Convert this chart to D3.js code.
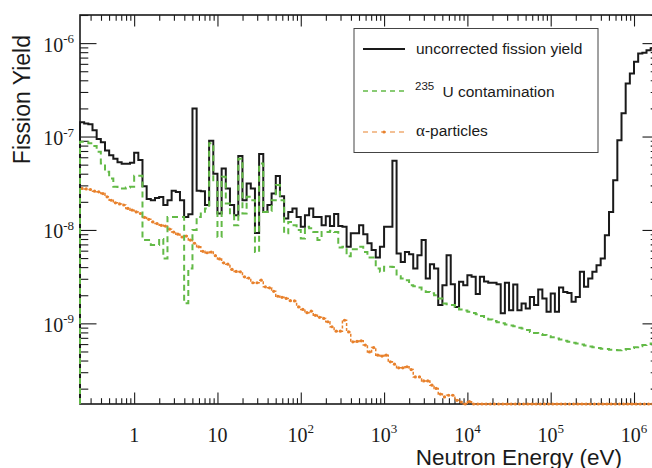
<!DOCTYPE html>
<html><head><meta charset="utf-8">
<script src="https://cdn.jsdelivr.net/npm/d3@7"></script>
<style>body{margin:0;background:#fff} svg{display:block}</style>
</head><body><svg id="c" width="652" height="468"></svg>
<script>
// Histogram binning: 20 bins per decade starting at 10^-0.65 eV
const binLogStart = -0.65, binLogWidth = 0.05;

// Uncorrected fission yield (per bin)
const uncorrected = [
1.42e-7,1.38e-7,1.35e-7,1.17e-7,9.4e-8,8.7e-8,7.1e-8,6.3e-8,5.8e-8,5.3e-8,
5.1e-8,5.1e-8,5.25e-8,6.7e-8,5.6e-8,2.94e-8,2.15e-8,2.08e-8,2.2e-8,2.25e-8,
1.85e-8,2.08e-8,2.62e-8,2.55e-8,2.08e-8,1.38e-8,1.47e-8,2.0e-7,2.62e-8,2.6e-8,
1.85e-8,9.0e-8,4.0e-8,1.5e-8,4.55e-8,2.78e-8,1.85e-8,1.44e-8,6.17e-8,2.08e-8,
3.15e-8,2.78e-8,9.3e-9,6.5e-8,1.56e-8,1.85e-8,2.45e-8,3.77e-8,2.3e-8,1.33e-8,
1.56e-8,1.7e-8,1.38e-8,1.08e-8,1.44e-8,1.7e-8,1.38e-8,1.38e-8,1.12e-8,1.4e-8,
1.1e-8,1.48e-8,1.1e-8,1.08e-8,6.6e-9,9.2e-9,9.2e-9,1.12e-8,9.0e-9,7.2e-9,
6.1e-9,5.07e-9,6.6e-9,1.08e-8,1.08e-8,5.5e-8,5.6e-9,4.55e-9,5.8e-9,5.5e-9,
3.87e-9,5.37e-9,7.8e-9,3.03e-9,4.3e-9,3.87e-9,1.57e-9,2.56e-9,5.37e-9,2.63e-9,
1.5e-9,2.79e-9,2.56e-9,3.28e-9,3.15e-9,2.06e-9,3.15e-9,2.8e-9,2.72e-9,2.72e-9,
2.63e-9,1.28e-9,2.72e-9,1.38e-9,2.6e-9,1.38e-9,1.63e-9,1.44e-9,1.92e-9,1.57e-9,
2.31e-9,1.85e-9,1.33e-9,2.09e-9,1.33e-9,2.42e-9,2.17e-9,2.12e-9,1.7e-9,1.92e-9,
3.56e-9,2.46e-9,3.03e-9,3.56e-9,4.2e-9,4.95e-9,8.8e-9,1.56e-8,3.41e-8,9.1e-8,
1.77e-7,3.7e-7,4.73e-7,6.3e-7,7.76e-7,7.9e-7,8.4e-7,8.8e-7,9.0e-7
];

// 235U contamination (per bin)
const u235 = [
8.8e-8,8.8e-8,8.5e-8,7.9e-8,6.86e-8,5.15e-8,4.19e-8,3.56e-8,2.9e-8,2.78e-8,
2.78e-8,2.85e-8,2.9e-8,3.8e-8,3.8e-8,7.8e-9,7.8e-9,6.9e-9,6.9e-9,8.0e-9,
4.95e-9,1.38e-8,1.38e-8,1.38e-8,1.38e-8,1.64e-9,3.87e-9,1.0e-8,1.38e-8,1.5e-8,
1.7e-8,8.5e-8,3.4e-8,8.4e-9,3.7e-8,1.92e-8,1.44e-8,1.12e-8,5.8e-8,1.5e-8,
2.26e-8,2.08e-8,5.8e-9,5.15e-8,1.56e-8,1.6e-8,2.08e-8,3.02e-8,2.08e-8,9.2e-9,
1.22e-8,1.12e-8,9.96e-9,8.1e-9,1.08e-8,1.04e-8,9.5e-9,7.8e-9,9.5e-9,9.5e-9,
9.8e-9,9.5e-9,6.5e-9,6.6e-9,5.24e-9,6.2e-9,6.2e-9,6.6e-9,5.8e-9,5.07e-9,
5.07e-9,3.87e-9,3.56e-9,4.03e-9,4.03e-9,4.0e-9,3.2e-9,3.03e-9,2.9e-9,2.56e-9,
2.5e-9,2.42e-9,2.3e-9,2.17e-9,2.1e-9,2.0e-9,1.85e-9,1.63e-9,1.6e-9,1.57e-9,
1.5e-9,1.41e-9,1.37e-9,1.33e-9,1.29e-9,1.25e-9,1.2e-9,1.17e-9,1.1e-9,1.06e-9,
1.03e-9,1.0e-9,9.7e-10,9.5e-10,9.3e-10,9.0e-10,8.8e-10,8.5e-10,8.1e-10,7.9e-10,
7.7e-10,7.5e-10,7.3e-10,7.1e-10,6.9e-10,6.7e-10,6.5e-10,6.35e-10,6.2e-10,6.1e-10,
5.95e-10,5.8e-10,5.65e-10,5.55e-10,5.45e-10,5.35e-10,5.3e-10,5.22e-10,5.18e-10,5.16e-10,
5.2e-10,5.3e-10,5.45e-10,5.55e-10,5.7e-10,5.85e-10,6.0e-10,6.1e-10,6.2e-10
];

// alpha-particle background (per bin; values below the axis sit on the bottom edge)
const alpha = [
2.78e-8,2.75e-8,2.71e-8,2.6e-8,2.56e-8,2.45e-8,2.26e-8,2.08e-8,1.95e-8,1.9e-8,
1.85e-8,1.7e-8,1.63e-8,1.56e-8,1.5e-8,1.36e-8,1.3e-8,1.22e-8,1.17e-8,1.12e-8,
1.1e-8,1.02e-8,9.5e-9,9.0e-9,8.4e-9,8.6e-9,7.8e-9,7.2e-9,6.6e-9,5.9e-9,
5.7e-9,5.8e-9,5.3e-9,4.9e-9,4.45e-9,4.3e-9,3.78e-9,3.6e-9,3.56e-9,3.15e-9,
3.05e-9,2.72e-9,2.72e-9,2.9e-9,2.46e-9,2.4e-9,2.2e-9,1.95e-9,1.9e-9,1.85e-9,
1.75e-9,1.74e-9,1.5e-9,1.41e-9,1.3e-9,1.35e-9,1.22e-9,1.16e-9,1.13e-9,1.04e-9,
9.2e-10,8.25e-10,8.25e-10,1.08e-9,8.1e-10,6.35e-10,6.4e-10,6.5e-10,5.85e-10,4.95e-10,
5.5e-10,4.57e-10,4.46e-10,4.57e-10,3.87e-10,3.66e-10,3.34e-10,3.34e-10,3.43e-10,3.2e-10,
2.67e-10,2.67e-10,2.42e-10,2.42e-10,2.18e-10,2.01e-10,1.75e-10,1.63e-10,1.7e-10,1.7e-10,
1.5e-10,1.44e-10,1.3e-10,1.45e-10,1.2e-10,1.15e-10,1.1e-10,1.05e-10,1.0e-10,9.5e-11,
9.0e-11,8.6e-11,8.2e-11,7.8e-11,7.4e-11,7.0e-11,6.7e-11,6.4e-11,6.1e-11,5.8e-11,
5.5e-11,5.2e-11,5.0e-11,4.8e-11,4.6e-11,4.4e-11,4.2e-11,4.0e-11,3.8e-11,3.6e-11,
3.5e-11,3.4e-11,3.3e-11,3.2e-11,3.1e-11,3.0e-11,2.9e-11,2.8e-11,2.7e-11,2.6e-11,
2.5e-11,2.4e-11,2.3e-11,2.2e-11,2.1e-11,2.0e-11,1.9e-11,1.8e-11,1.7e-11
];

const xTickExps = [0,1,2,3,4,5,6];
const yTickExps = [-6,-7,-8,-9];
const xTitle = "Neutron Energy (eV)";
const yTitle = "Fission Yield";

const W=652,H=468,L=80,R=659,T=15,B=404;
const xDomain=[Math.pow(10,-0.65),Math.pow(10,6.3)];
const yDomain=[1.37e-10,2.0e-6];
const x=d3.scaleLog().domain(xDomain).range([L,R]);
const y=d3.scaleLog().domain(yDomain).range([B,T]).clamp(true);
const svg=d3.select("#c");
const edge=i=>Math.pow(10,binLogStart+i*binLogWidth);
const center=i=>Math.pow(10,binLogStart+(i+0.5)*binLogWidth);

svg.append("defs").append("clipPath").attr("id","clip")
  .append("rect").attr("x",L-2).attr("y",T).attr("width",R-L+2).attr("height",B-T+2);

// frame
svg.append("rect").attr("x",L).attr("y",T).attr("width",R-L).attr("height",B-T)
  .attr("fill","none").attr("stroke","#1a1a1a").attr("stroke-width",1.6);

// ticks
const minorX=[],majorX=[];
for(let e=-1;e<=6;e++){for(let m=1;m<=9;m++){const v=m*Math.pow(10,e);if(v<xDomain[0]||v>xDomain[1])continue;(m===1?majorX:minorX).push(v);}}
const minorY=[],majorY=[];
for(let e=-10;e<=-6;e++){for(let m=1;m<=9;m++){const v=m*Math.pow(10,e);if(v<yDomain[0]||v>yDomain[1])continue;(m===1?majorY:minorY).push(v);}}
function axisG(gen,tx,ty){const g=svg.append("g").attr("transform",`translate(${tx},${ty})`).call(gen);
  g.select(".domain").remove(); g.selectAll("line").attr("stroke","#1a1a1a").attr("stroke-width",1.1); g.selectAll("text").remove(); return g;}
axisG(d3.axisBottom(x).tickValues(majorX).tickSize(-11.5),0,B);
axisG(d3.axisBottom(x).tickValues(minorX).tickSize(-5.8),0,B);
axisG(d3.axisTop(x).tickValues(majorX).tickSize(-11.5),0,T);
axisG(d3.axisTop(x).tickValues(minorX).tickSize(-5.8),0,T);
axisG(d3.axisLeft(y).tickValues(majorY).tickSize(-16.5),L,0);
axisG(d3.axisLeft(y).tickValues(minorY).tickSize(-8.3),L,0);
axisG(d3.axisRight(y).tickValues(majorY).tickSize(-16.5),R,0);
axisG(d3.axisRight(y).tickValues(minorY).tickSize(-8.3),R,0);

// tick labels
const serif="'Liberation Serif','Times New Roman',serif";
xTickExps.forEach(e=>{
  const t=svg.append("text").attr("x",x(Math.pow(10,e))).attr("y",441.5).attr("text-anchor","middle")
    .attr("font-family",serif).attr("font-size",20).attr("fill","#1a1a1a");
  if(e===0) t.text("1"); else if(e===1) t.text("10");
  else {t.append("tspan").text("10"); t.append("tspan").attr("font-size",13).attr("dy",-9).text(e);}
});
yTickExps.forEach(e=>{
  const t=svg.append("text").attr("x",74).attr("y",y(Math.pow(10,e))+8.5).attr("text-anchor","end")
    .attr("font-family",serif).attr("font-size",20).attr("fill","#1a1a1a");
  t.append("tspan").text("10"); t.append("tspan").attr("font-size",13).attr("dy",-8.5).text("-"+Math.abs(e));
});

// axis titles
const sans="'Liberation Sans',Arial,Helvetica,sans-serif";
svg.append("text").attr("transform","translate(30,35) rotate(-90)").attr("text-anchor","end")
  .attr("font-family",sans).attr("font-size",23).attr("fill","#1a1a1a").text(yTitle);
svg.append("text").attr("x",622).attr("y",464.5).attr("text-anchor","end")
  .attr("font-family",sans).attr("font-size",22.5).attr("fill","#1a1a1a").text(xTitle);

// data
const plot=svg.append("g").attr("clip-path","url(#clip)");
function histPts(vals){const p=[[x(edge(0)),B]];vals.forEach((v,i)=>{p.push([x(edge(i)),y(v)]);p.push([x(edge(i+1)),y(v)]);});return p;}
const line=d3.line();
const orange="#e8812c", green="#63ba47";
plot.append("path").attr("d",line(histPts(alpha))).attr("fill","none").attr("stroke",orange)
  .attr("stroke-width",1.5).attr("stroke-dasharray","3,2");
plot.selectAll("circle.a").data(alpha).enter().append("circle").attr("class","a")
  .attr("cx",(d,i)=>x(center(i))).attr("cy",d=>y(d)).attr("r",1.6).attr("fill",orange);
plot.append("path").attr("d",line(histPts(uncorrected))).attr("fill","none").attr("stroke","#1a1a1a")
  .attr("stroke-width",2);
plot.append("path").attr("d",line(histPts(u235))).attr("fill","none").attr("stroke",green)
  .attr("stroke-width",2).attr("stroke-dasharray","6,4");

// legend
const lg=svg.append("g");
lg.append("rect").attr("x",354).attr("y",28.5).attr("width",244).attr("height",124)
  .attr("fill","#fff").attr("stroke","#444").attr("stroke-width",1);
lg.append("line").attr("x1",363).attr("x2",405).attr("y1",49).attr("y2",49).attr("stroke","#1a1a1a").attr("stroke-width",2);
lg.append("text").attr("x",416).attr("y",54).attr("font-family",sans).attr("font-size",15.5).attr("fill","#1a1a1a").text("uncorrected fission yield");
lg.append("line").attr("x1",363).attr("x2",405).attr("y1",91).attr("y2",91).attr("stroke",green).attr("stroke-width",1.5).attr("stroke-dasharray","5,4");
lg.append("text").attr("x",415).attr("y",90).attr("font-family",sans).attr("font-size",11.5).attr("fill","#1a1a1a").text("235");
lg.append("text").attr("x",442.5).attr("y",97).attr("font-family",sans).attr("font-size",15.5).attr("fill","#1a1a1a").text("U contamination");
lg.append("line").attr("x1",363).attr("x2",405).attr("y1",132).attr("y2",132).attr("stroke",orange).attr("stroke-width",1.2).attr("stroke-dasharray","5,4");
lg.append("circle").attr("cx",384).attr("cy",132).attr("r",1.6).attr("fill",orange);
const t3=lg.append("text").attr("x",416).attr("y",136).attr("font-size",15.5).attr("fill","#1a1a1a");
t3.append("tspan").attr("font-family",serif).attr("font-size",17).text("α");
t3.append("tspan").attr("font-family",sans).text("-particles");
</script></body></html>
